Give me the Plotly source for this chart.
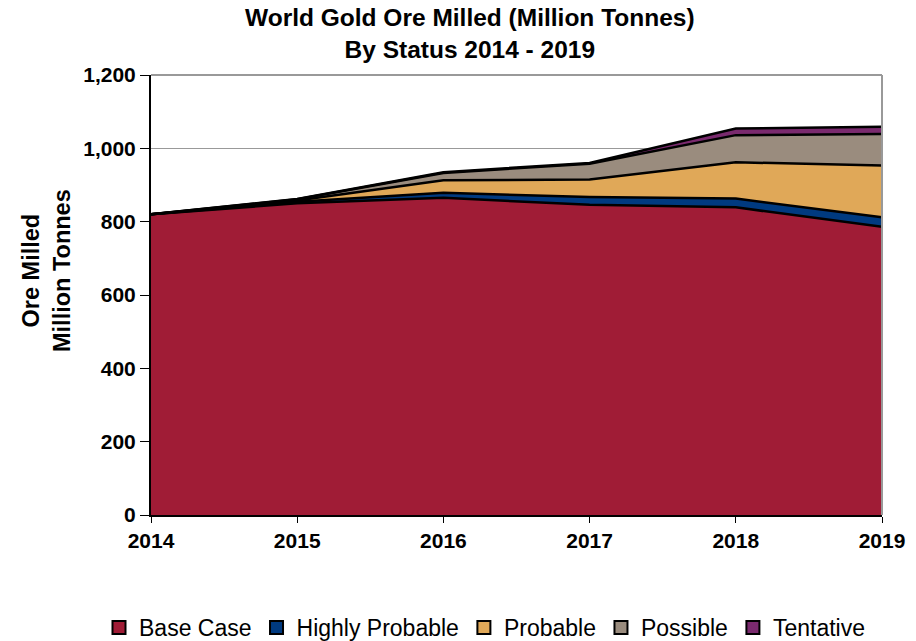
import plotly.graph_objects as go

years = [2014, 2015, 2016, 2017, 2018, 2019]
series_names = ["Base Case", "Highly Probable", "Probable", "Possible", "Tentative"]
base_case = [820, 850, 865, 846, 839, 786]
highly_probable = [0, 4, 14, 21, 24, 26]
probable = [0, 4, 34, 48, 99, 141]
possible = [0, 3, 20, 43, 74, 86]
tentative = [0, 1, 2, 2, 18, 20]
series_values = [base_case, highly_probable, probable, possible, tentative]
colors = ["#A01C36", "#003A80", "#E0A858", "#9A8C7E", "#7A2A6E"]
y_ticks = [0, 200, 400, 600, 800, 1000, 1200]
y_ticktext = ["0", "200", "400", "600", "800", "1,000", "1,200"]

FONT = "Liberation Sans, Arial, sans-serif"

fig = go.Figure()
for name, vals, col in zip(series_names, series_values, colors):
    fig.add_trace(go.Scatter(
        x=years, y=vals, name=name, mode="lines", stackgroup="one",
        line=dict(color="black", width=2.5), fillcolor=col, showlegend=False,
    ))
# legend entries (square swatches)
for name, col in zip(series_names, colors):
    fig.add_trace(go.Scatter(
        x=[None], y=[None], name=name, mode="markers",
        marker=dict(symbol="square", size=13, color=col, line=dict(color="black", width=2)),
        showlegend=True,
    ))

fig.update_layout(
    width=916, height=641,
    margin=dict(l=151, r=34, t=75, b=126, autoexpand=False),
    paper_bgcolor="white", plot_bgcolor="white",
    font=dict(family=FONT, color="black"),
    xaxis=dict(range=[2014, 2019], tickvals=years, ticktext=[str(y) for y in years],
               showline=True, linecolor="black", linewidth=2,
               ticks="outside", ticklen=6, tickcolor="black", showgrid=False,
               tickfont=dict(size=21, family=FONT, weight="bold"), zeroline=False),
    yaxis=dict(range=[0, 1200], tickvals=y_ticks, ticktext=y_ticktext,
               showline=True, linecolor="black", linewidth=2,
               ticks="outside", ticklen=9, tickcolor="black",
               showgrid=True, gridcolor="#999999", gridwidth=1, zeroline=False,
               tickfont=dict(size=21, family=FONT, weight="bold")),
    legend=dict(orientation="h", xref="paper", yref="paper",
                x=(99 - 151) / 731, xanchor="left", y=-(606 - 515) / 440, yanchor="top",
                font=dict(size=23, family=FONT), traceorder="normal", itemwidth=30),
    showlegend=True,
)

# chart title
fig.add_annotation(text="<b>World Gold Ore Milled (Million Tonnes)<br>By Status 2014 - 2019</b>",
                   xref="paper", yref="paper",
                   x=(470 - 151) / 731, y=(515 - 34) / 440, xanchor="center", yanchor="middle",
                   showarrow=False, font=dict(size=24.5, family=FONT, color="black"))

# y-axis title
fig.add_annotation(text="<b>Ore Milled<br>Million Tonnes</b>", textangle=-90,
                   xref="paper", yref="paper",
                   x=(46 - 151) / 731, y=(515 - 270) / 440, xanchor="center", yanchor="middle",
                   showarrow=False, font=dict(size=23.5, family=FONT, color="black"))

# plot area border on top and right (gray)
fig.add_shape(type="line", xref="paper", yref="paper", x0=0, x1=1, y0=1, y1=1,
              line=dict(color="#999999", width=2))
fig.add_shape(type="line", xref="paper", yref="paper", x0=1, x1=1, y0=0, y1=1,
              line=dict(color="#999999", width=2))

fig.write_html("out.html")
